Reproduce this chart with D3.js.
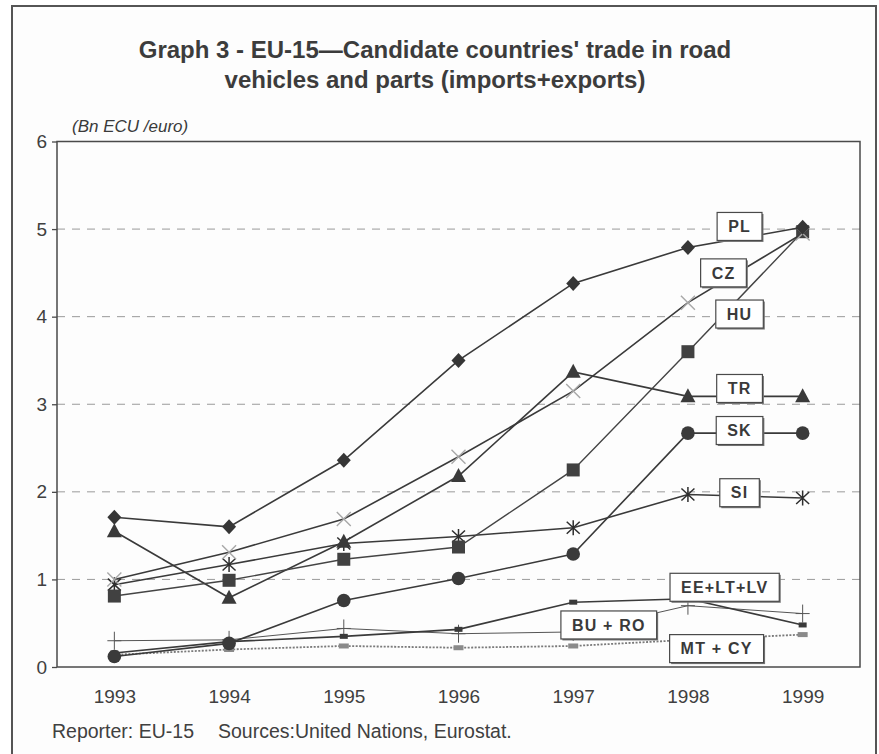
<!DOCTYPE html>
<html>
<head>
<meta charset="utf-8">
<script src="https://cdn.jsdelivr.net/npm/d3@7/dist/d3.min.js"></script>
<style>
  html, body { margin: 0; padding: 0; background: #ffffff; }
  svg { display: block; }
  text { font-family: "Liberation Sans", Arial, sans-serif; fill: #3a3a3a; }
</style>
</head>
<body>
<svg id="chart" width="879" height="754"></svg>
<script>
// Years on the category axis
const years = ["1993", "1994", "1995", "1996", "1997", "1998", "1999"];
const yTicks = [0, 1, 2, 3, 4, 5, 6];

// Trade in road vehicles and parts, Bn ECU/euro
const PL = [1.71, 1.60, 2.36, 3.50, 4.38, 4.79, 5.02];
const CZ = [1.00, 1.31, 1.69, 2.40, 3.15, 4.16, 4.95];
const HU = [0.81, 0.99, 1.23, 1.37, 2.25, 3.60, 4.97];
const TR = [1.55, 0.79, 1.43, 2.18, 3.37, 3.09, 3.09];
const SK = [0.12, 0.27, 0.76, 1.01, 1.29, 2.67, 2.67];
const SI = [0.94, 1.17, 1.41, 1.49, 1.59, 1.97, 1.93];
const EE_LT_LV = [0.16, 0.29, 0.35, 0.43, 0.74, 0.78, 0.48];
const BU_RO = [0.30, 0.31, 0.44, 0.38, 0.40, 0.70, 0.61];
const MT_CY = [0.14, 0.20, 0.24, 0.22, 0.24, 0.31, 0.37];

// Series names for the boxed labels, and where each label sits
// (position along the year axis as a fractional index, and value)
const labelNames = ["PL", "CZ", "HU", "TR", "SK", "SI", "EE+LT+LV", "BU + RO", "MT + CY"];
const labelAtIndex = [5.45, 5.31, 5.45, 5.45, 5.45, 5.45, 5.32, 4.31, 5.25];
const labelAtValue = [5.03, 4.50, 4.03, 3.18, 2.70, 1.99, 0.91, 0.48, 0.21];

const svg = d3.select("#chart");
const W = 879, H = 754;
const plot = { left: 57, top: 141.5, right: 860, bottom: 667 };
const FONT = "'Liberation Sans', Arial, sans-serif";

svg.append("rect").attr("width", W).attr("height", H).attr("fill", "#ffffff");
// outer frame
svg.append("rect")
  .attr("x", 12).attr("y", 6).attr("width", 864).attr("height", 770)
  .attr("fill", "#fdfdfd").attr("stroke", "#555").attr("stroke-width", 2);

const x = d3.scalePoint().domain(years).range([plot.left, plot.right]).padding(0.5);
const y = d3.scaleLinear().domain([0, 6]).range([plot.bottom, plot.top]);
const step = x.step();

// Title
const title = svg.append("text")
  .attr("text-anchor", "middle")
  .attr("font-size", 24).attr("font-weight", "bold")
  .style("fill", "#3c3c3c");
title.append("tspan").attr("x", 435).attr("y", 58)
  .text("Graph 3 - EU-15\u2014Candidate countries' trade in road");
title.append("tspan").attr("x", 435).attr("y", 88)
  .text("vehicles and parts (imports+exports)");

// Unit note
svg.append("text")
  .attr("x", 72).attr("y", 132)
  .attr("font-size", 17).attr("font-style", "italic")
  .text("(Bn ECU /euro)");

// Horizontal dashed gridlines
svg.append("g").selectAll("line")
  .data(yTicks.filter(d => d > 0 && d < 6))
  .join("line")
  .attr("x1", plot.left).attr("x2", plot.right)
  .attr("y1", d => y(d)).attr("y2", d => y(d))
  .attr("stroke", "#9a9a9a").attr("stroke-width", 1)
  .attr("stroke-dasharray", "8,7");

// Plot border
svg.append("rect")
  .attr("x", plot.left).attr("y", plot.top)
  .attr("width", plot.right - plot.left).attr("height", plot.bottom - plot.top)
  .attr("fill", "none").attr("stroke", "#4a4a4a").attr("stroke-width", 1.5);

// Y axis
const yAxis = svg.append("g")
  .attr("transform", `translate(${plot.left},0)`)
  .call(d3.axisLeft(y).tickValues(yTicks).tickFormat(d3.format("d")).tickSize(5).tickPadding(5));
yAxis.select(".domain").remove();
yAxis.selectAll("line").attr("stroke", "#4a4a4a").attr("stroke-width", 1.3);
yAxis.selectAll("text")
  .attr("font-size", 19).style("font-family", FONT)
  .style("fill", "#404040");

// X axis
const xAxis = svg.append("g")
  .attr("transform", `translate(0,${plot.bottom})`)
  .call(d3.axisBottom(x).tickSize(0).tickPadding(23));
xAxis.select(".domain").remove();
xAxis.selectAll("text")
  .attr("font-size", 19).style("font-family", FONT)
  .style("fill", "#404040");

// Series styles
const series = [
  { values: MT_CY, stroke: "#7a7a7a", width: 1.8, dash: "2,1.5", marker: "smallrect", mfill: "#8a8a8a", mw: 10, mh: 5 },
  { values: BU_RO, stroke: "#555", width: 1.0, dash: null, marker: "plus", mfill: "#555" },
  { values: EE_LT_LV, stroke: "#3a3a3a", width: 1.6, dash: null, marker: "smallrect", mfill: "#3a3a3a", mw: 8, mh: 5 },
  { values: SI, stroke: "#3a3a3a", width: 1.6, dash: null, marker: "asterisk", mfill: "#2e2e2e" },
  { values: SK, stroke: "#3a3a3a", width: 1.6, dash: null, marker: "circle", mfill: "#3a3a3a" },
  { values: TR, stroke: "#3a3a3a", width: 1.6, dash: null, marker: "triangle", mfill: "#3a3a3a" },
  { values: HU, stroke: "#444", width: 1.4, dash: null, marker: "square", mfill: "#414141" },
  { values: CZ, stroke: "#3a3a3a", width: 1.6, dash: null, marker: "cross", mfill: "#a8a8a8" },
  { values: PL, stroke: "#3a3a3a", width: 1.6, dash: null, marker: "diamond", mfill: "#363636" }
];

const line = d3.line().x((d, i) => x(years[i])).y(d => y(d));
const gSeries = svg.append("g");

series.forEach(s => {
  const g = gSeries.append("g");
  g.append("path")
    .datum(s.values)
    .attr("d", line)
    .attr("fill", "none")
    .attr("stroke", s.stroke)
    .attr("stroke-width", s.width)
    .attr("stroke-dasharray", s.dash);

  const pts = g.selectAll("g.pt").data(s.values).join("g")
    .attr("class", "pt")
    .attr("transform", (d, i) => `translate(${x(years[i])},${y(d)})`);

  switch (s.marker) {
    case "diamond":
      pts.append("path").attr("d", "M0,-7.5L7,0L0,7.5L-7,0Z").attr("fill", s.mfill);
      break;
    case "square":
      pts.append("rect").attr("x", -6.5).attr("y", -6.5).attr("width", 13).attr("height", 13).attr("fill", s.mfill);
      break;
    case "triangle":
      pts.append("path").attr("d", "M0,-8L7.5,6L-7.5,6Z").attr("fill", s.mfill);
      break;
    case "circle":
      pts.append("circle").attr("r", 6.8).attr("fill", s.mfill);
      break;
    case "cross":
      pts.append("path").attr("d", "M-7,-7L7,7M-7,7L7,-7")
        .attr("stroke", s.mfill).attr("stroke-width", 1.4).attr("fill", "none");
      break;
    case "asterisk":
      pts.append("path").attr("d", "M0,-7.5L0,7.5M-6.5,-6L6.5,6M-6.5,6L6.5,-6")
        .attr("stroke", s.mfill).attr("stroke-width", 1.5).attr("fill", "none");
      break;
    case "plus":
      pts.append("path").attr("d", "M0,-9L0,9M-7,0L7,0")
        .attr("stroke", s.mfill).attr("stroke-width", 1).attr("fill", "none");
      break;
    case "smallrect":
      pts.append("rect").attr("x", -s.mw / 2).attr("y", -s.mh / 2)
        .attr("width", s.mw).attr("height", s.mh).attr("fill", s.mfill);
      break;
  }
});

// Boxed series labels
const boxPad = { h: 11, v: 7 };
const gLabels = svg.append("g");
labelNames.forEach((name, k) => {
  const i0 = Math.floor(labelAtIndex[k]);
  const cx = x(years[i0]) + (labelAtIndex[k] - i0) * step;
  const cy = y(labelAtValue[k]);
  const g = gLabels.append("g").attr("transform", `translate(${cx},${cy})`);
  const t = g.append("text")
    .attr("text-anchor", "middle").attr("dy", "0.36em")
    .attr("font-size", 16).attr("font-weight", "bold")
    .attr("letter-spacing", 1.2)
    .style("fill", "#3a3a3a")
    .text(name);
  const bb = t.node().getBBox();
  const bw = bb.width + 2 * boxPad.h, bh = 28;
  g.insert("rect", "text")
    .attr("x", -bw / 2 + 1.5).attr("y", -bh / 2 + 1.5)
    .attr("width", bw).attr("height", bh)
    .attr("fill", "#777");
  g.insert("rect", "text")
    .attr("x", -bw / 2).attr("y", -bh / 2)
    .attr("width", bw).attr("height", bh)
    .attr("fill", "#ffffff").attr("stroke", "#4a4a4a").attr("stroke-width", 1.2);
});

// Footer
svg.append("text").attr("x", 52).attr("y", 738).attr("font-size", 19.5)
  .style("fill", "#404040")
  .text("Reporter: EU-15");
svg.append("text").attr("x", 218).attr("y", 738).attr("font-size", 19.5)
  .style("fill", "#404040")
  .text("Sources:United Nations, Eurostat.");
</script>
</body>
</html>
